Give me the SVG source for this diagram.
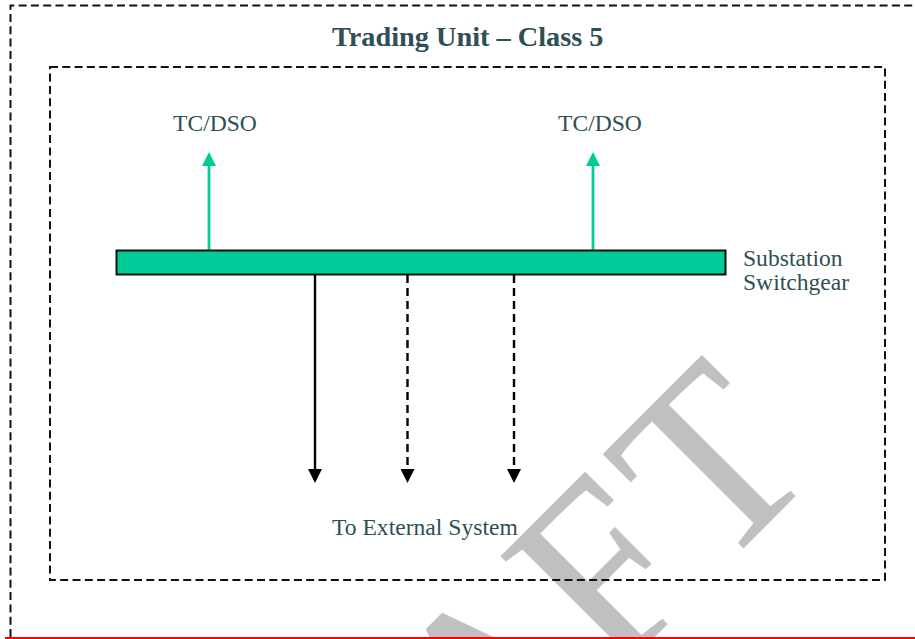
<svg xmlns="http://www.w3.org/2000/svg" width="915" height="639" viewBox="0 0 915 639">
<style>
text{font-family:"Liberation Serif","Times New Roman",serif;fill:#2f4f56}
.lbl{font-size:23.6px}
.ttl{font-size:28.3px;font-weight:bold}
.wm{font-size:252px;fill:#c0c0c0;stroke:#c0c0c0;stroke-width:1}
.box{fill:none;stroke:#111;stroke-width:2;stroke-dasharray:8 4.3}
.green{fill:none;stroke:#00cc99;stroke-width:2.8}
.blk{fill:none;stroke:#000;stroke-width:2.4}
.dash{stroke-dasharray:8 5}
</style>
<defs>
<clipPath id="page"><rect x="0" y="0" width="915" height="637"/></clipPath>
<marker id="ag" markerUnits="userSpaceOnUse" markerWidth="14" markerHeight="14" refX="0" refY="7" orient="auto"><path d="M0 0L14 7L0 14Z" fill="#00cc99"/></marker>
<marker id="ab" markerUnits="userSpaceOnUse" markerWidth="14" markerHeight="14" refX="0" refY="7" orient="auto"><path d="M0 0L14 7L0 14Z" fill="#000"/></marker>
</defs>
<rect width="915" height="639" fill="#fff"/>
<g id="watermark" clip-path="url(#page)"><text class="wm" text-anchor="end" transform="translate(821.500 469.500) rotate(-45) scale(0.96 1)">DRA<tspan dx="-3">F</tspan><tspan dx="13">T</tspan></text></g>
<g id="outer-boundary"><path class="box" d="M10.500 637V5.500H915"/></g>
<g id="inner-boundary"><rect class="box" x="50" y="67" width="835" height="513"/></g>
<g id="title"><text class="ttl" x="332" y="45.500">Trading Unit – Class 5</text></g>
<g id="connectors">
<path class="green" d="M209 250V166" marker-end="url(#ag)"/>
<path class="green" d="M593 250V166" marker-end="url(#ag)"/>
<path class="blk" d="M315 275V469" marker-end="url(#ab)"/>
<path class="blk dash" d="M407.500 275V469" marker-end="url(#ab)"/>
<path class="blk dash" d="M514 275V469" marker-end="url(#ab)"/>
</g>
<g id="switchgear"><rect x="116.500" y="250.500" width="609" height="24" fill="#00cc99" stroke="#111" stroke-width="2"/></g>
<g id="label-tc-dso-1"><text class="lbl" x="173" y="130.500">TC/DSO</text></g>
<g id="label-tc-dso-2"><text class="lbl" x="558" y="130.500">TC/DSO</text></g>
<g id="label-switchgear"><text class="lbl" x="743" y="265.500">Substation</text><text class="lbl" x="743" y="289.500">Switchgear</text></g>
<g id="label-external"><text class="lbl" x="332" y="534.500">To External System</text></g>
<g id="footer-rule"><rect x="5" y="637" width="910" height="2" fill="#f00"/></g>
</svg>
